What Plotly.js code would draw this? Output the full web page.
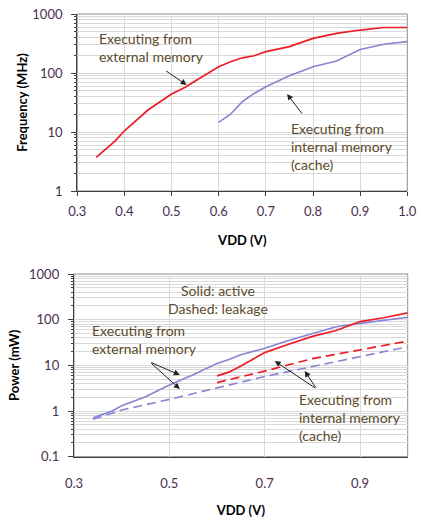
<!DOCTYPE html>
<html><head><meta charset="utf-8">
<script src="https://cdn.plot.ly/plotly-3.0.1.min.js"></script>
<style>html,body{margin:0;padding:0;background:#fff}#chart{width:421px;height:528px}</style>
</head><body><div id="chart"></div>
<script>
// ---- Top chart: Frequency vs VDD ----
const freqExtVdd = [0.34,0.37,0.38,0.40,0.45,0.50,0.53,0.55,0.60,0.625,0.65,0.675,0.70,0.75,0.80,0.85,0.90,0.95,1.00];
const freqExtMHz = [3.7,6,7,10.5,23.6,44,58,73,128,155,181,196,230,280,387,470,535,590,590];
const freqIntVdd = [0.60,0.625,0.65,0.675,0.70,0.75,0.80,0.85,0.90,0.95,1.00];
const freqIntMHz = [14.6,20,32.6,45,58.5,90,128,160,250,307,340];

// ---- Bottom chart: Power vs VDD ----
const pwrBlueActVdd = [0.34,0.36,0.38,0.40,0.45,0.50,0.55,0.60,0.625,0.65,0.70,0.75,0.80,0.85,0.90,0.95,1.00];
const pwrBlueActMW  = [0.71,0.85,1.0,1.3,2.05,3.7,6.2,11,13.4,17,23.6,35,50,70,83,98,113];
const pwrRedActVdd  = [0.60,0.625,0.65,0.70,0.75,0.80,0.85,0.90,0.95,1.00];
const pwrRedActMW   = [5.9,7.1,9.7,19,29,43,58,91,110,141];
const pwrRedLeakVdd = [0.60,0.70,0.80,0.90,1.00];
const pwrRedLeakMW  = [4.2,7.5,14,22,34];
const pwrBlueLeakVdd = [0.34,0.40,0.50,0.60,0.70,0.80,0.90,1.00];
const pwrBlueLeakMW  = [0.66,1.05,1.8,3.2,5.7,9.4,15.8,25.6];

// ---- Tick labels ----
const topYTickVals = [1,10,100,1000];
const topYTickText = ["1","10","100","1000"];
const botYTickVals = [0.1,1,10,100,1000];
const botYTickText = ["0.1","1","10","100","1000"];

const RED = "#ee1c25", BLUE = "#8784d4";
const FONT = "Lato, 'Liberation Sans', sans-serif";
const TICKC = "#4a3050", NOTEC = "#5b4b2b", GRID = "#d9d9d9", AX = "#404040";

const traces = [
  {x: freqExtVdd, y: freqExtMHz, mode:"lines", line:{color:RED, width:1.7}, xaxis:"x", yaxis:"y"},
  {x: freqIntVdd, y: freqIntMHz, mode:"lines", line:{color:BLUE, width:1.6}, xaxis:"x", yaxis:"y"},
  {x: pwrBlueActVdd, y: pwrBlueActMW, mode:"lines", line:{color:BLUE, width:1.6}, xaxis:"x2", yaxis:"y2"},
  {x: pwrRedActVdd, y: pwrRedActMW, mode:"lines", line:{color:RED, width:1.7}, xaxis:"x2", yaxis:"y2"},
  {x: pwrRedLeakVdd, y: pwrRedLeakMW, mode:"lines", line:{color:RED, width:1.7, dash:"9px,5px"}, xaxis:"x2", yaxis:"y2"},
  {x: pwrBlueLeakVdd, y: pwrBlueLeakMW, mode:"lines", line:{color:BLUE, width:1.6, dash:"9px,5px"}, xaxis:"x2", yaxis:"y2"}
];

const W = 421, H = 528;
const px = v => v / W, py = v => 1 - v / H;

const baseX = {
  showline:true, linecolor:AX, linewidth:1.2, mirror:false,
  showgrid:true, gridcolor:GRID, gridwidth:1, zeroline:false,
  tickfont:{family:FONT, size:13, color:TICKC},
  ticks:"outside", ticklen:4, tickcolor:AX
};
const baseY = {
  type:"log", showline:true, linecolor:AX, linewidth:1.2,
  showgrid:true, gridcolor:GRID, gridwidth:1, zeroline:false,
  tickfont:{family:FONT, size:13, color:TICKC},
  ticks:"outside", ticklen:5, tickcolor:AX, ticklabelstandoff:6,
  minor:{dtick:"D1", showgrid:true, gridcolor:GRID, gridwidth:1, ticks:"outside", ticklen:2, tickcolor:AX}
};

const layout = {
  width:W, height:H, margin:{l:0, r:0, t:0, b:0},
  paper_bgcolor:"#fff", plot_bgcolor:"#fff", showlegend:false,
  font:{family:FONT, size:13, color:"#000"},
  xaxis: Object.assign({}, baseX, {
    domain:[px(77.3), px(407.3)], anchor:"y", range:[0.3,1.0], dtick:0.1, tick0:0.3, tickformat:".1f",
    ticklabelstandoff:4,
    title:{text:"<b>VDD (V)</b>", font:{family:FONT, size:13, color:"#000"}, standoff:18}
  }),
  yaxis: Object.assign({}, baseY, {
    domain:[py(191), py(14)], anchor:"x", range:[0,3],
    tickmode:"array", tickvals:topYTickVals, ticktext:topYTickText,
    title:{text:"<b>Frequency (MHz)</b>", font:{family:FONT, size:13, color:"#000"}, standoff:1}
  }),
  xaxis2: Object.assign({}, baseX, {
    domain:[px(74), px(407.7)], anchor:"y2", range:[0.3,1.0], dtick:0.2, tick0:0.3, tickformat:".1f",
    ticks:"", ticklabelstandoff:14,
    title:{text:"<b>VDD (V)</b>", font:{family:FONT, size:13, color:"#000"}, standoff:16}
  }),
  yaxis2: Object.assign({}, baseY, {
    domain:[py(456.7), py(274)], anchor:"x2", range:[-1,3],
    tickmode:"array", tickvals:botYTickVals, ticktext:botYTickText,
    title:{text:"<b>Power (mW)</b>", font:{family:FONT, size:13, color:"#000"}, standoff:6}
  }),
  shapes:[
    {type:"rect", xref:"x domain", yref:"y domain", x0:0, x1:1, y0:0, y1:1, line:{color:"#8c8c8c", width:1}, layer:"below"},
    {type:"rect", xref:"x2 domain", yref:"y2 domain", x0:0, x1:1, y0:0, y1:1, line:{color:"#8c8c8c", width:1}, layer:"below"}
  ],
  annotations:[
    {xref:"paper", yref:"paper", x:px(97), y:py(47.5), xanchor:"left", yanchor:"middle", align:"left", showarrow:false,
     text:"Executing from<br>external memory", font:{family:FONT, size:14, color:NOTEC}},
    {xref:"paper", yref:"paper", x:px(289), y:py(146), xanchor:"left", yanchor:"middle", align:"left", showarrow:false,
     text:"Executing from<br>internal memory<br>(cache)", font:{family:FONT, size:14, color:NOTEC}},
    {xref:"x", yref:"y", x:0.532, y:1.797, ax:-22, ay:-15, text:"", showarrow:true, arrowhead:2, arrowsize:1.2, arrowwidth:1, arrowcolor:"#222"},
    {xref:"x", yref:"y", x:0.745, y:1.644, ax:16, ay:21, text:"", showarrow:true, arrowhead:2, arrowsize:1.2, arrowwidth:1, arrowcolor:"#222"},

    {xref:"paper", yref:"paper", x:px(218), y:py(299.5), xanchor:"center", yanchor:"middle", align:"center", showarrow:false,
     text:"Solid: active<br>Dashed: leakage", font:{family:FONT, size:14, color:NOTEC}},
    {xref:"paper", yref:"paper", x:px(90), y:py(339.5), xanchor:"left", yanchor:"middle", align:"left", showarrow:false,
     text:"Executing from<br>external memory", font:{family:FONT, size:14, color:NOTEC}},
    {xref:"paper", yref:"paper", x:px(297), y:py(417), xanchor:"left", yanchor:"middle", align:"left", showarrow:false,
     text:"Executing from<br>internal memory<br>(cache)", font:{family:FONT, size:14, color:NOTEC}},
    {xref:"x2", yref:"y2", x:0.522, y:0.789, ax:-30, ay:-13, text:"", showarrow:true, arrowhead:2, arrowsize:1.2, arrowwidth:1, arrowcolor:"#222"},
    {xref:"x2", yref:"y2", x:0.522, y:0.482, ax:-30, ay:-27, text:"", showarrow:true, arrowhead:2, arrowsize:1.2, arrowwidth:1, arrowcolor:"#222"},
    {xref:"x2", yref:"y2", x:0.721, y:1.095, ax:42, ay:28, text:"", showarrow:true, arrowhead:2, arrowsize:1.2, arrowwidth:1, arrowcolor:"#222"},
    {xref:"x2", yref:"y2", x:0.784, y:0.876, ax:12, ay:18, text:"", showarrow:true, arrowhead:2, arrowsize:1.2, arrowwidth:1, arrowcolor:"#222"}
  ]
};

Plotly.newPlot("chart", traces, layout, {displayModeBar:false, staticPlot:true});
</script></body></html>
